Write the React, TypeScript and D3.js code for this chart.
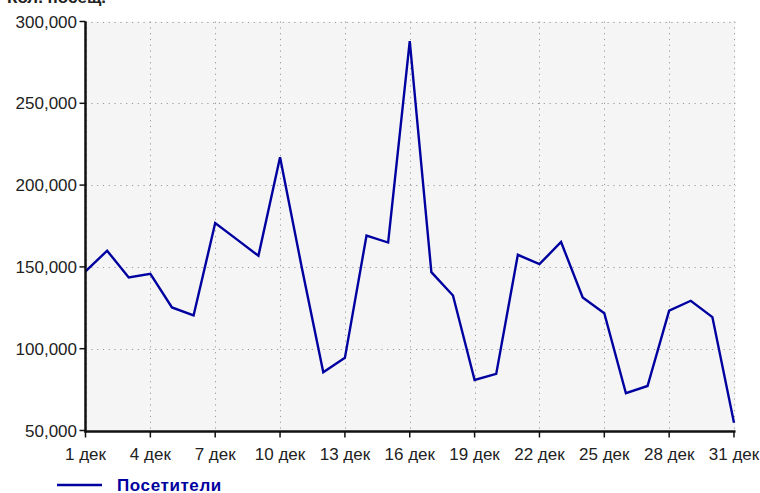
import React from "react";
import * as d3 from "d3";

const days: number[] = Array.from({ length: 31 }, (_, i) => i + 1);
const visitors: number[] = [
  147200, 159900, 143500, 145800, 125200, 120300, 176800, 166800, 156800, 217000,
  150000, 85600, 94400, 169200, 164900, 288000, 146800, 132500, 80900, 84600,
  157400, 151700, 165200, 131300, 121700, 72800, 77200, 123300, 129300, 119300, 54800,
];
const xTicks: number[] = [1, 4, 7, 10, 13, 16, 19, 22, 25, 28, 31];
const yTicks: number[] = [50000, 100000, 150000, 200000, 250000, 300000];
const monthLabel = "дек";
const seriesName = "Посетители";
const titleText = "Кол. посещ.";

const W = 760;
const H = 493;

export default function App() {
  const x = d3.scaleLinear().domain([1, 31]).range([85.5, 734]);
  const y = d3.scaleLinear().domain([50000, 300000]).range([430.5, 21.5]);
  const fmt = d3.format(",");
  const line = d3
    .line<number>()
    .x((_, i) => x(days[i]))
    .y((d) => y(d));
  const font = "'Liberation Sans', Arial, sans-serif";
  const left = x(1);
  const right = x(31) + 1.5;
  const top = y(300000);
  const bottom = y(50000) + 1;

  return (
    <svg
      width={W}
      height={H}
      style={{ position: "absolute", left: 0, top: 0, background: "#fff" }}
      fontFamily={font}
    >
      <text x={7} y={3} fontSize={17} fontWeight="bold" fill="#222">
        {titleText}
      </text>
      <rect x={left} y={top} width={right - left} height={bottom - top} fill="#f5f5f5" />
      {yTicks.map((t) => (
        <line
          key={"gy" + t}
          x1={left}
          x2={right}
          y1={Math.round(y(t)) + 0.5}
          y2={Math.round(y(t)) + 0.5}
          stroke="#9a9a9a"
          strokeWidth={1}
          strokeDasharray="1.2,4.6"
        />
      ))}
      {xTicks.map((t) => (
        <line
          key={"gx" + t}
          x1={Math.round(x(t)) + 0.5}
          x2={Math.round(x(t)) + 0.5}
          y1={top}
          y2={bottom}
          stroke="#9a9a9a"
          strokeWidth={1}
          strokeDasharray="1.2,4.6"
        />
      ))}
      <path d={line(visitors) || ""} fill="none" stroke="#0000a0" strokeWidth={2.4} strokeLinejoin="miter" />
      {/* axes */}
      <line x1={left} x2={left} y1={top} y2={bottom + 1} stroke="#111" strokeWidth={2.5} />
      <line x1={left - 1} x2={right} y1={bottom} y2={bottom} stroke="#111" strokeWidth={2.5} />
      {yTicks.map((t) => (
        <g key={"yt" + t}>
          <line x1={left - 6} x2={left} y1={y(t)} y2={y(t)} stroke="#111" strokeWidth={1.5} />
          <text
            x={77}
            y={y(t)}
            dy="0.36em"
            textAnchor="end"
            fontSize={17}
            fill="#222"
          >
            {fmt(t)}
          </text>
        </g>
      ))}
      {xTicks.map((t) => (
        <g key={"xt" + t}>
          <line x1={x(t)} x2={x(t)} y1={bottom} y2={bottom + 6} stroke="#111" strokeWidth={1.5} />
          <text x={x(t)} y={460} textAnchor="middle" fontSize={17} fill="#222">
            {t + " " + monthLabel}
          </text>
        </g>
      ))}
      {/* legend */}
      <line x1={57} x2={102} y1={485} y2={485} stroke="#0000a0" strokeWidth={2.5} />
      <text x={117} y={491} fontSize={17} fontWeight="bold" fill="#0000a0" letterSpacing={0.6}>
        {seriesName}
      </text>
    </svg>
  );
}
